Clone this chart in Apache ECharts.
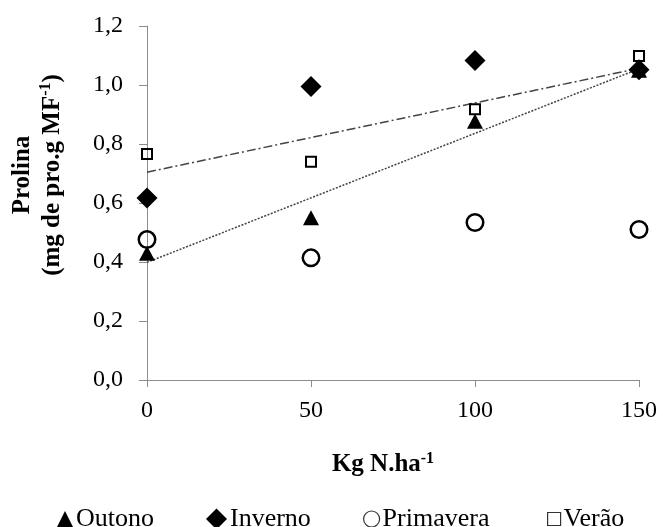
<!DOCTYPE html>
<html>
<head>
<meta charset="utf-8">
<script src="https://cdn.jsdelivr.net/npm/echarts@6/dist/echarts.min.js"></script>
<style>
  html, body { margin: 0; padding: 0; background: #fff; }
  #chart { width: 663px; height: 527px; }
</style>
</head>
<body>
<div id="chart"></div>
<script>
// Nitrogen dose (Kg N/ha) and proline content per season
const doses = [0, 50, 100, 150];
const outono = [0.43, 0.55, 0.877, 1.05];
const inverno = [0.617, 0.995, 1.083, 1.052];
const primavera = [0.476, 0.414, 0.534, 0.51];
const verao = [0.766, 0.74, 0.918, 1.098];
const yTicks = ['0,0', '0,2', '0,4', '0,6', '0,8', '1,0', '1,2'];

// Least-squares line through a season's points, evaluated at the ends of the dose range
function trend(xs, ys) {
  const n = xs.length;
  const mx = xs.reduce((a, b) => a + b, 0) / n;
  const my = ys.reduce((a, b) => a + b, 0) / n;
  let sxy = 0, sxx = 0;
  for (let i = 0; i < n; i++) {
    sxy += (xs[i] - mx) * (ys[i] - my);
    sxx += (xs[i] - mx) * (xs[i] - mx);
  }
  const b = sxy / sxx;
  const a = my - b * mx;
  const x0 = xs[0], x1 = xs[n - 1];
  return [[x0, a + b * x0], [x1, a + b * x1]];
}

const pairs = ys => doses.map((d, i) => [d, ys[i]]);
const FONT = 'Liberation Serif';
const legendText = { fontFamily: FONT, fontSize: 26, color: '#000' };

// One legend block per season so each marker keeps its own size
function legendItem(name, left, w, h, itemStyle) {
  return {
    data: [{ name: name, itemStyle: itemStyle }],
    left: left, top: 501,
    itemWidth: w, itemHeight: h, itemGap: 0,
    textStyle: Object.assign({ padding: [0, 0, 0, -2] }, legendText)
  };
}

const chart = echarts.init(document.getElementById('chart'));
chart.setOption({
  animation: false,
  backgroundColor: '#fff',
  textStyle: { fontFamily: FONT, color: '#000' },
  grid: { left: 147, right: 24, top: 26, bottom: 147, containLabel: false },
  legend: [
    legendItem('Outono', 52, 16, 16, { color: '#000', borderWidth: 0 }),
    legendItem('Inverno', 201, 21, 21, { color: '#000', borderWidth: 0 }),
    legendItem('Primavera', 358, 16, 16, { color: '#fff', borderColor: '#333', borderWidth: 1.2 }),
    legendItem('Verão', 542, 13, 13, { color: '#fff', borderColor: '#333', borderWidth: 1.2 })
  ],
  xAxis: {
    type: 'value',
    min: 0, max: 150, interval: 50,
    name: '{t|Kg N.ha}{s|-1}',
    nameLocation: 'middle',
    nameGap: 71,
    nameTextStyle: {
      padding: [0, 20, 0, 0],
      rich: {
        t: { fontFamily: FONT, fontSize: 25, fontWeight: 'bold', color: '#000' },
        s: { fontFamily: FONT, fontSize: 16, fontWeight: 'bold', color: '#000', verticalAlign: 'top', padding: [0, 0, 11, 0] }
      }
    },
    axisLine: { onZero: false, lineStyle: { color: '#8c8c8c', width: 1 } },
    axisTick: { show: true, inside: false, length: 7, lineStyle: { color: '#8c8c8c' } },
    axisLabel: { fontFamily: FONT, fontSize: 24, color: '#000', margin: 19 },
    splitLine: { show: false }
  },
  yAxis: {
    type: 'value',
    min: 0, max: 1.2, interval: 0.2,
    name: '{t|Prolina}\n{t|(mg de pro.g MF}{s|-1}{t|)}',
    nameLocation: 'middle',
    nameRotate: 90,
    nameGap: 79,
    nameTextStyle: {
      // extra leading space lifts the rotated title block above the plot's mid-height
      padding: [0, 0, 0, 56],
      rich: {
        t: { fontFamily: FONT, fontSize: 25, fontWeight: 'bold', color: '#000', lineHeight: 30 },
        s: { fontFamily: FONT, fontSize: 16, fontWeight: 'bold', color: '#000', verticalAlign: 'top', padding: [0, 0, 11, 0] }
      }
    },
    axisLine: { show: true, onZero: false, lineStyle: { color: '#8c8c8c', width: 1 } },
    axisTick: { show: true, inside: false, length: 8, lineStyle: { color: '#8c8c8c' } },
    axisLabel: {
      fontFamily: FONT, fontSize: 24, color: '#000', margin: 24,
      formatter: v => yTicks[Math.round(v / 0.2)]
    },
    splitLine: { show: false }
  },
  series: [
    {
      name: 'trend-verao', type: 'line', data: trend(doses, verao),
      symbol: 'none', silent: true, z: 1,
      lineStyle: { color: '#444', width: 1.5, type: [9, 3, 2, 3] }
    },
    {
      name: 'trend-outono', type: 'line', data: trend(doses, outono),
      symbol: 'none', silent: true, z: 1,
      lineStyle: { color: '#444', width: 1.5, type: [2, 1.5] }
    },
    {
      name: 'Outono', type: 'scatter', data: pairs(outono), z: 2,
      symbol: 'triangle', symbolSize: [16, 15],
      itemStyle: { color: '#000', borderWidth: 0, opacity: 1 }
    },
    {
      name: 'Inverno', type: 'scatter', data: pairs(inverno), z: 3,
      symbol: 'diamond', symbolSize: 21,
      itemStyle: { color: '#000', borderWidth: 0, opacity: 1 }
    },
    {
      name: 'Primavera', type: 'scatter', data: pairs(primavera), z: 4,
      symbol: 'circle', symbolSize: 16.5,
      itemStyle: { color: 'rgba(255,255,255,0)', borderColor: '#000', borderWidth: 2.5, opacity: 1 }
    },
    {
      name: 'Verão', type: 'scatter', data: pairs(verao), z: 5,
      symbol: 'rect', symbolSize: 10,
      itemStyle: { color: 'rgba(255,255,255,0)', borderColor: '#000', borderWidth: 2, opacity: 1 }
    }
  ]
});
</script>
</body>
</html>
